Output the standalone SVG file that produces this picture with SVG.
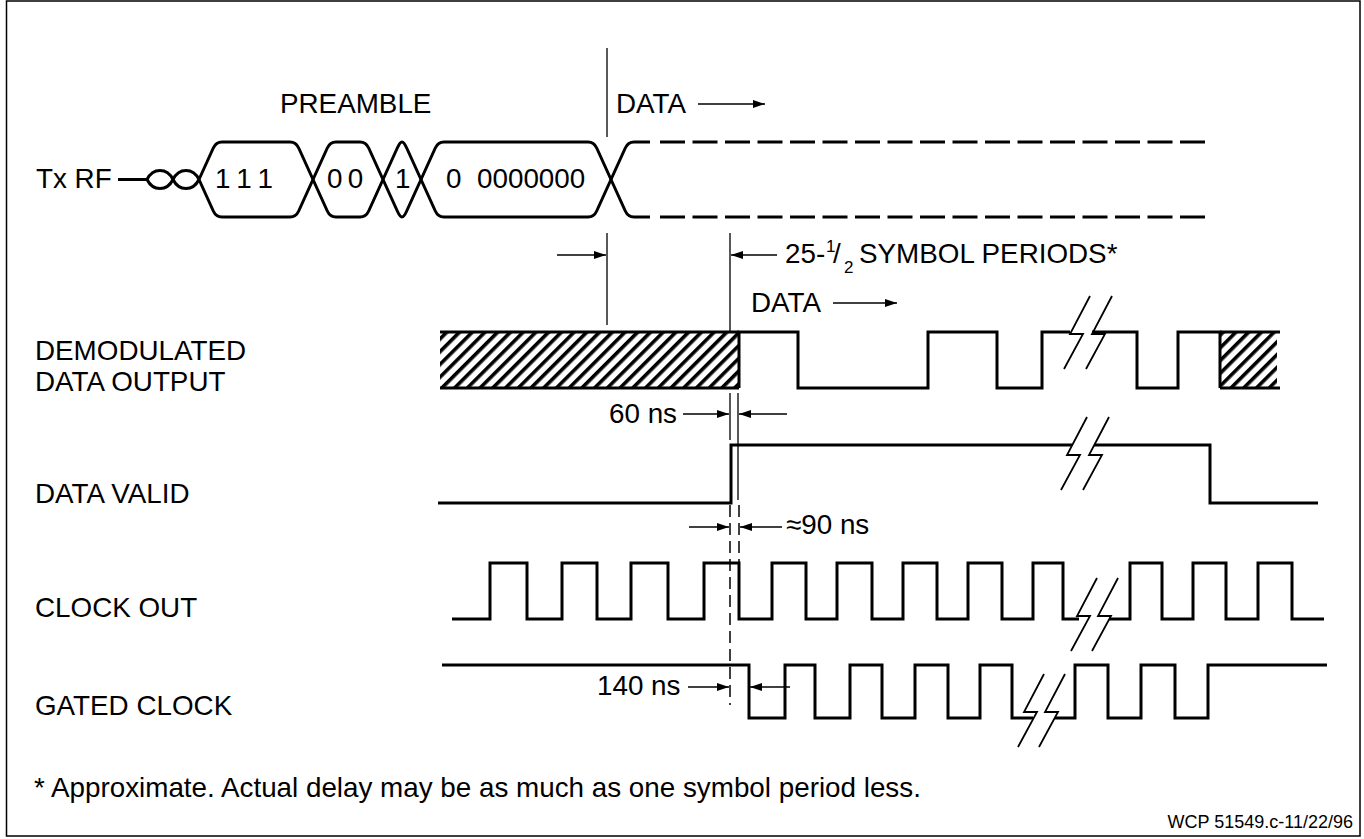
<svg xmlns="http://www.w3.org/2000/svg" width="1364" height="839" viewBox="0 0 1364 839">
<defs>
<style>
.t{font-family:"Liberation Sans",Arial,Helvetica,sans-serif;font-size:27.8px;fill:#000}
.sm{font-size:17px}
.s{fill:none;stroke:#000;stroke-width:3;stroke-linejoin:miter}
.thin{fill:none;stroke:#000;stroke-width:1.3}
.dim{fill:none;stroke:#000;stroke-width:1.3;marker-end:url(#ah)}
.dash{fill:none;stroke:#000;stroke-width:3;stroke-dasharray:25 7.5}
.vd{fill:none;stroke:#000;stroke-width:1.5;stroke-dasharray:12 6}
</style>
<marker id="ah" markerUnits="userSpaceOnUse" markerWidth="12" markerHeight="8" refX="12" refY="4" orient="auto"><path d="M0,0 L12,4 L0,8 z" fill="#000"/></marker>
<pattern id="hatch" patternUnits="userSpaceOnUse" width="9" height="9" patternTransform="rotate(45)"><rect width="3.6" height="9" fill="#000"/></pattern>
<path id="bk" d="M20,-38 L0,0 L13,0 L-6,35" fill="none" stroke="#000" stroke-width="1.8"/>
</defs>
<rect width="1364" height="839" fill="#fff"/>
<rect x="6.5" y="1" width="1353.5" height="835" fill="none" stroke="#000" stroke-width="1.5"/>

<g id="tx-rf">
<text class="t" x="36" y="188">Tx RF</text>
<path class="s" d="M118,179.5 H147"/>
<path class="s" stroke-width="2.5" d="M147,179.5 C153,167.5 167,167.5 173,179.5 C179,191.5 193,191.5 199,179.5"/>
<path class="s" stroke-width="2.5" d="M147,179.5 C153,191.5 167,191.5 173,179.5 C179,167.5 193,167.5 199,179.5"/>
<path class="s" d="M199,179.5 L213.3,148 Q216,142 222,142 L290,142 Q296,142 298.7,148 L327.3,211 Q330,217 336,217 L360,217 Q366,217 368.7,211 L397.3,148 Q400,142 402,142 Q404,142 406.7,148 L435.3,211 Q438,217 444,217 L588,217 Q594,217 596.7,211 L625.3,148 Q628,142 634,142 L650,142"/>
<path class="s" d="M199,179.5 L213.3,211 Q216,217 222,217 L290,217 Q296,217 298.7,211 L327.3,148 Q330,142 336,142 L360,142 Q366,142 368.7,148 L397.3,211 Q400,217 402,217 Q404,217 406.7,211 L435.3,148 Q438,142 444,142 L588,142 Q594,142 596.7,148 L625.3,211 Q628,217 634,217 L650,217"/>
<path class="dash" d="M660,142 H1207 M660,217 H1207"/>
<text class="t" x="215" y="188" letter-spacing="7.9">111</text>
<text class="t" x="327" y="188" letter-spacing="5.4">00</text>
<text class="t" x="395" y="188">1</text>
<text class="t" y="188"><tspan x="446">0</tspan><tspan x="477">0000000</tspan></text>
<text class="t" x="280" y="113">PREAMBLE</text>
<text class="t" x="616" y="113">DATA</text>
</g>

<g id="demodulated-data-output">
<text class="t" x="35" y="360">DEMODULATED</text>
<text class="t" x="35" y="391">DATA OUTPUT</text>
<rect x="440" y="332" width="299" height="56" fill="url(#hatch)"/>
<path class="s" d="M440,332 H739 M440,388 H739"/>
<path class="s" d="M739,388 V332 H798 V388 H928 V332 H997 V388 H1042 V332 H1070 M1092,332 H1137 V388 H1178 V332 H1220 V388"/>
<rect x="1220" y="332" width="57" height="56" fill="url(#hatch)"/>
<path class="s" d="M1220,332 H1280 M1220,388 H1280"/>
<use href="#bk" x="1070" y="334"/>
<use href="#bk" x="1092" y="334"/>
</g>

<g id="data-valid">
<text class="t" x="35" y="503">DATA VALID</text>
<path class="s" d="M438,503 H731 V445 H1072 M1094,445 H1210 V503 H1318"/>
<use href="#bk" x="1067" y="455"/>
<use href="#bk" x="1089" y="455"/>
</g>

<g id="clock-out">
<text class="t" x="35" y="617">CLOCK OUT</text>
<path class="s" d="M452,619 H490 V563 H527 V619 H562 V563 H597 V619 H631 V563 H668 V619 H704 V563 H739 V619 H772 V563 H806 V619 H837 V563 H872 V619 H903 V563 H937 V619 H968 V563 H1002 V619 H1033 V563 H1063 V619 H1079 M1109,619 H1130 V563 H1162 V619 H1193 V563 H1226 V619 H1258 V563 H1292 V619 H1324"/>
<use href="#bk" x="1077" y="616"/>
<use href="#bk" x="1098" y="616"/>
</g>

<g id="gated-clock">
<text class="t" x="35" y="715">GATED CLOCK</text>
<path class="s" d="M442,665 H749 V718 H785 V665 H815 V718 H850 V665 H882 V718 H915 V665 H948 V718 H980 V665 H1012 V718 H1033 M1055,718 H1075 V665 H1108 V718 H1141 V665 H1175 V718 H1208 V665 H1327"/>
<use href="#bk" x="1024" y="712"/>
<use href="#bk" x="1045" y="712"/>
</g>

<g id="connectors">
<path class="thin" d="M607,48 V137"/>
<path class="dim" d="M698,104 H765"/>
<path class="thin" d="M607,233 V325 M730,233 V332"/>
<path class="dim" d="M557,255 H606"/>
<path class="dim" d="M777,255 H731"/>
<path class="dim" d="M833,303 H897"/>
<path class="thin" d="M730,393 V440 M738,393 V500"/>
<path class="dim" d="M683,414 H729"/>
<path class="dim" d="M787,414 H739"/>
<path class="vd" d="M730,505 V705 M739,505 V562"/>
<path class="dim" d="M689,527 H729"/>
<path class="dim" d="M782,527 H740"/>
<path class="dim" d="M688,687 H729"/>
<path class="dim" d="M790,687 H750"/>
</g>

<g id="annotations">
<text class="t" y="263"><tspan x="785">25-</tspan><tspan class="sm" x="826" y="252">1</tspan><tspan x="833" y="263">/</tspan><tspan class="sm" x="844" y="273">2</tspan><tspan x="859" y="263">SYMBOL PERIODS*</tspan></text>
<text class="t" x="751" y="312">DATA</text>
<text class="t" x="609" y="423">60 ns</text>
<text class="t" x="786" y="534">≈90 ns</text>
<text class="t" x="597" y="695">140 ns</text>
<text class="t" x="34" y="797">* Approximate. Actual delay may be as much as one symbol period less.</text>
<text class="t" x="1353" y="828" text-anchor="end" style="font-size:18px">WCP 51549.c-11/22/96</text>
</g>
</svg>
